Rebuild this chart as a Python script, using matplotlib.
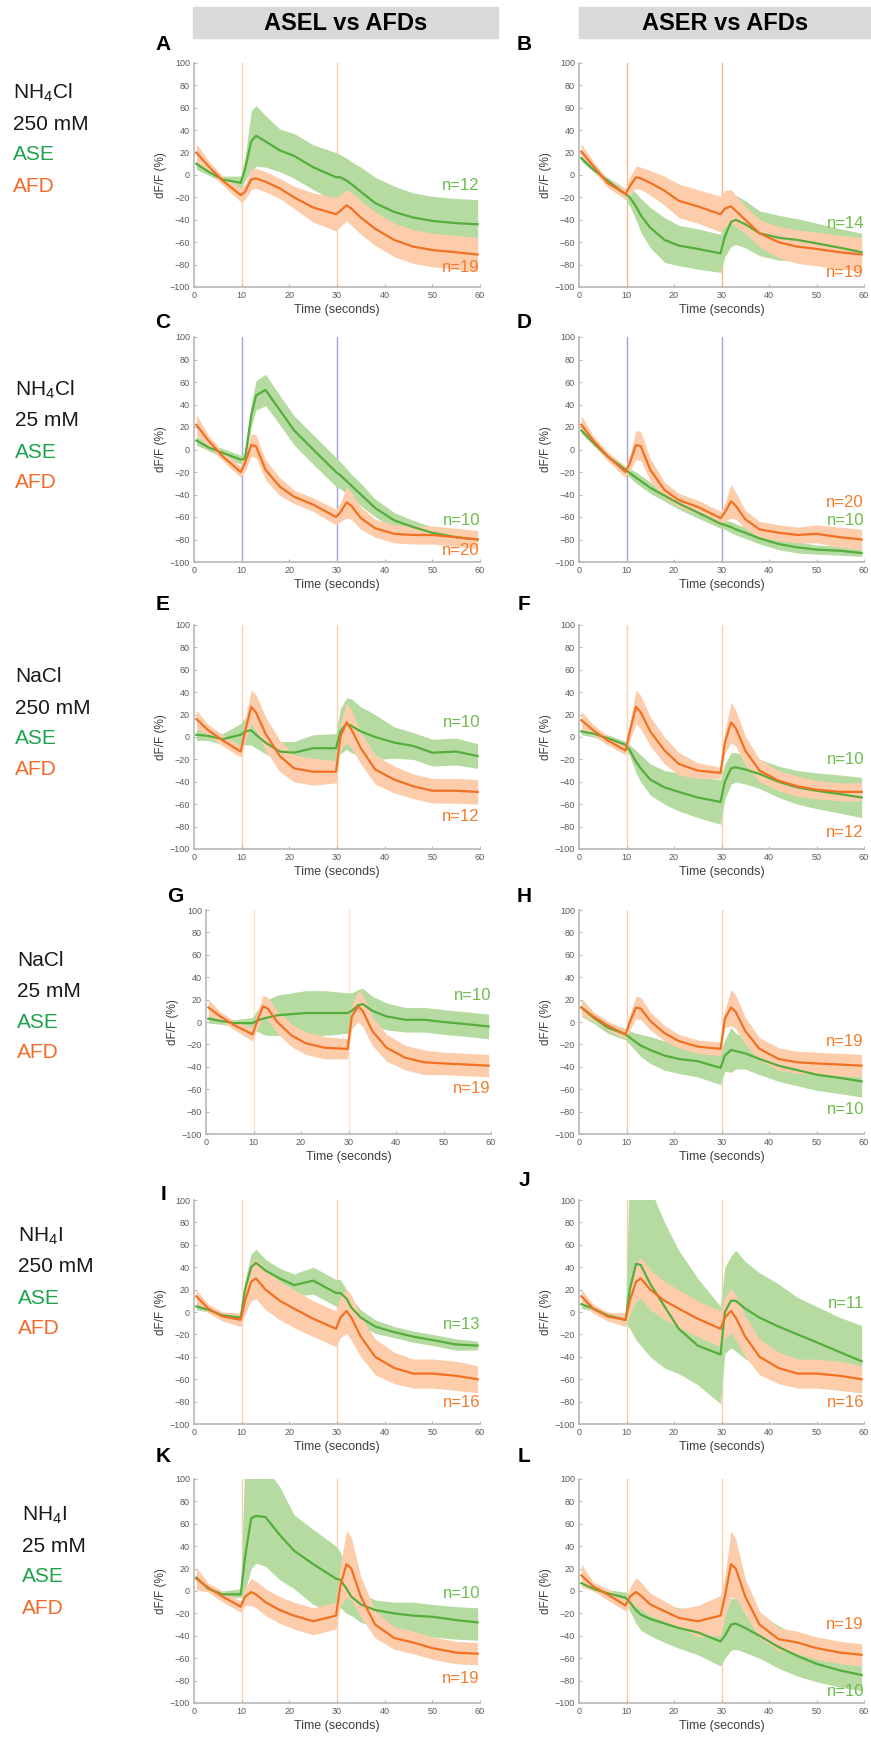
import matplotlib
matplotlib.use("Agg")
import numpy as np
import matplotlib.pyplot as plt
from matplotlib.patches import Rectangle

plt.rcParams['font.family'] = ['Liberation Sans', 'DejaVu Sans']
plt.rcParams['mathtext.fontset'] = 'custom'
plt.rcParams['mathtext.rm'] = 'Liberation Sans'

W, H = 871, 1737

# shared time grid (seconds)
t = [0.5, 3, 6, 9.8, 10.7, 12, 13, 15, 18, 21, 25, 29.8, 30.7, 32, 33, 35, 38, 42, 46, 50, 55, 59.5]

# --- A: NH4Cl 250 mM, ASEL ---
a_ase = [10, 3, -4, -7, 5, 30, 35, 30, 22, 17, 7, -2, -2, -5, -8, -15, -25, -33, -38, -41, -43, -44]
a_ase_err = [5, 3, 3, 6, 10, 27, 27, 23, 19, 20, 20, 22, 20, 20, 20, 22, 23, 23, 22, 22, 22, 22]
a_afd = [20, 8, -5, -18, -15, -4, -3, -6, -12, -20, -29, -35, -32, -27, -30, -38, -48, -58, -64, -67, -69, -71]
a_afd_err = [8, 5, 4, 6, 7, 9, 9, 9, 9, 10, 13, 15, 14, 14, 15, 15, 15, 15, 15, 15, 15, 15]
# --- B: NH4Cl 250 mM, ASER ---
b_ase = [15, 5, -5, -17, -20, -28, -36, -47, -58, -63, -66, -70, -55, -42, -40, -44, -52, -56, -58, -61, -65, -69]
b_ase_err = [3, 2, 3, 5, 8, 12, 15, 18, 20, 18, 18, 17, 18, 22, 22, 21, 20, 20, 19, 18, 17, 17]
b_afd = [21, 8, -7, -17, -10, -2, -3, -7, -14, -23, -28, -35, -30, -28, -32, -40, -52, -60, -64, -66, -69, -71]
b_afd_err = [7, 4, 4, 5, 8, 10, 10, 11, 13, 15, 15, 16, 16, 15, 14, 12, 12, 14, 15, 15, 15, 15]
# --- C: NH4Cl 25 mM, ASEL ---
c_ase = [8, 2, -3, -9, -8, 30, 48, 53, 35, 17, 0, -20, -23, -28, -32, -40, -52, -63, -69, -74, -78, -80]
c_ase_err = [4, 3, 4, 4, 5, 10, 13, 14, 13, 13, 13, 13, 12, 11, 10, 10, 8, 7, 6, 5, 4, 4]
c_afd = [22, 8, -6, -20, -12, 4, 3, -18, -33, -42, -49, -60, -56, -47, -50, -61, -70, -75, -76, -76, -78, -80]
c_afd_err = [9, 5, 4, 5, 7, 10, 10, 9, 8, 6, 6, 7, 8, 14, 12, 10, 8, 8, 8, 8, 8, 8]
# --- D: NH4Cl 25 mM, ASER ---
d_ase = [17, 6, -6, -18, -21, -25, -28, -34, -41, -48, -56, -66, -67, -69, -71, -74, -79, -84, -87, -89, -90, -92]
d_ase_err = [3, 2, 3, 3, 4, 5, 5, 5, 5, 5, 5, 4, 4, 5, 5, 5, 5, 5, 5, 4, 4, 3]
d_afd = [22, 8, -6, -20, -12, 4, 3, -18, -36, -45, -51, -61, -56, -46, -50, -62, -71, -74, -76, -75, -78, -80]
d_afd_err = [8, 4, 4, 5, 7, 13, 13, 10, 7, 6, 6, 6, 8, 15, 12, 8, 7, 7, 7, 8, 9, 9]
# --- E: NaCl 250 mM, ASEL ---
e_ase = [2, 1, -2, 2, 5, 6, 2, -5, -13, -14, -10, -10, 5, 12, 10, 5, 0, -5, -8, -14, -13, -17]
e_ase_err = [5, 4, 5, 10, 12, 13, 12, 10, 9, 10, 12, 13, 20, 23, 24, 22, 20, 14, 12, 12, 12, 11]
e_afd = [16, 6, -3, -13, 5, 27, 22, 3, -17, -28, -31, -31, 0, 13, 7, -10, -29, -38, -44, -48, -48, -49]
e_afd_err = [8, 5, 5, 5, 10, 15, 16, 15, 14, 12, 12, 10, 12, 18, 17, 14, 13, 12, 11, 11, 11, 11]
# --- F: NaCl 250 mM, ASER ---
f_ase = [5, 3, -1, -7, -12, -22, -28, -38, -45, -49, -54, -58, -40, -28, -27, -29, -33, -40, -45, -48, -51, -54]
f_ase_err = [3, 3, 3, 3, 5, 10, 12, 14, 15, 17, 18, 20, 16, 14, 13, 13, 13, 14, 15, 16, 17, 18]
f_afd = [15, 6, -3, -12, 5, 27, 22, 5, -12, -24, -30, -32, -5, 13, 8, -12, -30, -39, -44, -47, -49, -49]
f_afd_err = [8, 5, 4, 4, 8, 15, 15, 13, 12, 10, 7, 5, 10, 18, 16, 13, 10, 9, 9, 8, 8, 8]
# --- G: NaCl 25 mM, ASEL ---
g_ase = [3, 1, -1, -1, 1, 3, 4, 6, 7, 8, 8, 8, 10, 15, 16, 10, 5, 2, 2, 0, -2, -4]
g_ase_err = [4, 3, 3, 5, 9, 14, 16, 18, 19, 20, 20, 18, 16, 14, 14, 13, 12, 11, 11, 11, 11, 11]
g_afd = [13, 5, -3, -11, 0, 14, 12, 0, -12, -19, -23, -24, 5, 14, 10, -8, -23, -32, -36, -37, -38, -39]
g_afd_err = [7, 4, 4, 6, 7, 10, 10, 10, 10, 10, 10, 9, 10, 14, 14, 13, 12, 11, 11, 10, 10, 10]
# --- H: NaCl 25 mM, ASER ---
h_ase = [13, 4, -5, -11, -14, -18, -21, -25, -30, -33, -35, -41, -30, -25, -26, -28, -33, -39, -43, -47, -50, -53]
h_ase_err = [8, 5, 5, 5, 6, 8, 10, 12, 13, 13, 14, 15, 14, 20, 16, 14, 14, 14, 14, 14, 14, 14]
h_afd = [13, 5, -3, -11, 0, 13, 12, 1, -10, -17, -22, -24, 3, 13, 9, -8, -24, -33, -36, -37, -38, -39]
h_afd_err = [7, 4, 4, 4, 7, 10, 10, 8, 7, 6, 6, 6, 8, 16, 15, 12, 10, 10, 10, 10, 10, 10]
# --- I: NH4I 250 mM, ASEL ---
i_ase = [5, 2, -3, -5, 20, 40, 44, 37, 30, 24, 28, 17, 17, 12, 4, -5, -13, -18, -22, -25, -29, -30]
i_ase_err = [3, 2, 2, 3, 8, 12, 12, 10, 9, 10, 12, 12, 12, 8, 8, 7, 6, 5, 5, 5, 5, 4]
i_afd = [14, 3, -4, -7, 10, 27, 30, 20, 10, 3, -6, -15, -5, 1, -5, -22, -40, -50, -55, -55, -57, -60]
i_afd_err = [6, 4, 4, 6, 12, 17, 18, 18, 17, 17, 16, 16, 18, 20, 20, 18, 16, 14, 13, 13, 13, 12]
# --- J: NH4I 250 mM, ASER (asymmetric ASE band) ---
j_ase = [7, 3, -3, -7, 20, 43, 42, 25, 5, -15, -30, -38, 0, 10, 10, 3, -5, -13, -20, -27, -36, -44]
j_ase_lo = [3, 1, -6, -10, -15, -25, -30, -40, -50, -55, -65, -82, -37, -32, -35, -42, -48, -55, -62, -66, -70, -72]
j_ase_hi = [10, 5, 0, -3, 140, 140, 140, 110, 80, 55, 30, 5, 40, 50, 55, 45, 35, 25, 13, 5, -5, -12]
j_afd = [14, 3, -4, -7, 10, 27, 30, 20, 10, 3, -6, -15, -5, 1, -5, -22, -40, -50, -55, -55, -57, -60]
j_afd_err = [6, 4, 4, 6, 12, 17, 18, 18, 17, 17, 16, 16, 18, 20, 20, 18, 16, 14, 13, 13, 13, 12]
# --- K: NH4I 25 mM, ASEL (asymmetric ASE band) ---
k_ase = [12, 2, -3, -3, 30, 65, 67, 66, 50, 36, 24, 11, 10, 2, -5, -12, -17, -20, -22, -23, -26, -28]
k_ase_lo = [8, 0, -5, -6, 0, 20, 25, 22, 10, 2, -12, -20, -15, -20, -22, -28, -32, -37, -40, -41, -43, -44]
k_ase_hi = [15, 5, 0, 2, 120, 130, 130, 110, 93, 68, 55, 40, 35, 18, 5, -2, -8, -10, -10, -12, -14, -15]
k_afd = [11, 3, -5, -14, -5, -1, -3, -10, -17, -22, -27, -22, 5, 24, 20, -5, -30, -42, -46, -51, -55, -56]
k_afd_err = [10, 4, 5, 5, 8, 12, 12, 12, 12, 12, 12, 12, 18, 30, 28, 18, 12, 10, 10, 10, 10, 10]
# --- L: NH4I 25 mM, ASER ---
l_ase = [7, 2, -2, -6, -10, -17, -21, -25, -29, -33, -37, -45, -40, -30, -29, -33, -40, -50, -58, -65, -71, -75]
l_ase_err = [3, 2, 3, 5, 8, 12, 14, 15, 17, 18, 20, 22, 20, 23, 23, 22, 20, 19, 18, 16, 15, 14]
l_afd = [14, 4, -3, -13, -5, -1, -4, -12, -18, -24, -27, -22, -5, 24, 20, -5, -30, -43, -46, -51, -55, -57]
l_afd_err = [10, 4, 5, 5, 8, 13, 12, 10, 9, 8, 14, 18, 18, 30, 26, 16, 12, 10, 10, 10, 10, 10]

letters = ['A', 'B', 'C', 'D', 'E', 'F', 'G', 'H', 'I', 'J', 'K', 'L']
ase_n = ['n=12', 'n=14', 'n=10', 'n=10', 'n=10', 'n=10', 'n=10', 'n=10', 'n=13', 'n=11', 'n=10', 'n=10']
afd_n = ['n=19', 'n=19', 'n=20', 'n=20', 'n=12', 'n=12', 'n=19', 'n=19', 'n=16', 'n=16', 'n=19', 'n=19']
ase_n_y = [-9, -43, -63, -63, 13, -20, 24, -78, -11, 8, -2, -90]
afd_n_y = [-83, -87, -90, -47, -71, -85, -59, -17, -81, -81, -78, -30]
row_labels = [
    ['NH$_\\mathregular{4}$Cl', '250 mM'],
    ['NH$_\\mathregular{4}$Cl', '25 mM'],
    ['NaCl', '250 mM'],
    ['NaCl', '25 mM'],
    ['NH$_\\mathregular{4}$I', '250 mM'],
    ['NH$_\\mathregular{4}$I', '25 mM'],
]
col_titles = ['ASEL vs AFDs', 'ASER vs AFDs']

panels = [
    (a_ase, a_ase_err, a_afd, a_afd_err), (b_ase, b_ase_err, b_afd, b_afd_err),
    (c_ase, c_ase_err, c_afd, c_afd_err), (d_ase, d_ase_err, d_afd, d_afd_err),
    (e_ase, e_ase_err, e_afd, e_afd_err), (f_ase, f_ase_err, f_afd, f_afd_err),
    (g_ase, g_ase_err, g_afd, g_afd_err), (h_ase, h_ase_err, h_afd, h_afd_err),
    (i_ase, i_ase_err, i_afd, i_afd_err), (j_ase, None, j_afd, j_afd_err),
    (k_ase, None, k_afd, k_afd_err), (l_ase, l_ase_err, l_afd, l_afd_err),
]
ase_bands = {9: (j_ase_lo, j_ase_hi), 10: (k_ase_lo, k_ase_hi)}

# layout in pixels
row_y = [(63, 287), (337, 562), (625, 849), (910, 1134), (1200, 1424), (1479, 1703)]
col_x = [(194, 480), (579, 864)]
letter_y = [45, 45, 322, 322, 605, 605, 897, 897, 1195, 1180, 1457, 1457]
label_y0 = [93, 390, 677, 960, 1236, 1515]
label_x0 = [13, 15, 15, 17, 18, 22]

green_line, green_fill = '#55ad3c', '#b5dba1'
orange_line, orange_fill = '#f07124', '#fdcdab'
stim = ['#f9ccaa', '#f6b985', '#a3a3dc', '#a3a3dc', '#f9d0b2', '#f9d0b2',
        '#fbe2d0', '#f9ccaa', '#f9d0b2', '#f9ccaa', '#f9d0b2', '#f9ccaa']

fig = plt.figure(figsize=(W / 100, H / 100), dpi=100)

def fx(px):
    return px / W

def fy(py):
    return 1 - py / H

# column header boxes
for (x0, x1), title in zip([(193, 498), (579, 871)], col_titles):
    fig.patches.append(Rectangle((fx(x0), fy(38)), fx(x1 - x0), (38 - 7) / H,
                                 transform=fig.transFigure, color='#d9d9d9', zorder=0))
    fig.text(fx((x0 + x1) / 2), fy(23), title, ha='center', va='center', fontsize=17,
             fontweight='bold', family=['Liberation Sans Narrow', 'Liberation Sans'], stretch='condensed')

for idx in range(12):
    r, c = divmod(idx, 2)
    x0, x1 = col_x[c]
    if idx == 6:
        x0, x1 = 206, 491
    top, bot = row_y[r]
    ax = fig.add_axes([fx(x0), fy(bot), fx(x1 - x0), (bot - top) / H])
    ase, ase_err, afd, afd_err = panels[idx]
    ase = np.array(ase)
    afd = np.array(afd)
    if idx in ase_bands:
        lo, hi = ase_bands[idx]
    else:
        lo, hi = ase - np.array(ase_err), ase + np.array(ase_err)
    for xv in (10, 30):
        ax.axvline(xv, color=stim[idx], lw=1.0, zorder=1)
    ax.fill_between(t, lo, hi, color=green_fill, lw=0, zorder=2)
    ax.fill_between(t, afd - np.array(afd_err), afd + np.array(afd_err), color=orange_fill, lw=0, zorder=3)
    ax.plot(t, ase, color=green_line, lw=1.6, zorder=4)
    ax.plot(t, afd, color=orange_line, lw=1.6, zorder=5)
    ax.text(60, ase_n_y[idx], ase_n[idx], color='#6dbb4c', fontsize=12, ha='right', va='center', zorder=6)
    ax.text(60, afd_n_y[idx], afd_n[idx], color='#f47b2c', fontsize=12, ha='right', va='center', zorder=6)

    ax.set_xlim(0, 60)
    ax.set_ylim(-100, 100)
    ax.set_xticks(range(0, 61, 10))
    ax.set_yticks(range(-100, 101, 20))
    for s in ('top', 'right'):
        ax.spines[s].set_visible(False)
    for s in ('left', 'bottom'):
        ax.spines[s].set_color('#b8b8b8')
        ax.spines[s].set_linewidth(1.2)
    ax.tick_params(direction='in', length=2.5, width=0.8, colors='#b8b8b8',
                   labelcolor='#5a5a5a', labelsize=6.5, pad=3)
    ax.set_xlabel('Time (seconds)', fontsize=9, color='#404040', labelpad=3)
    ax.set_ylabel('dF/F (%)', fontsize=8.5, color='#404040', labelpad=2)

    lx = x0 - 31 if c == 0 else x0 - 55
    fig.text(fx(lx), fy(letter_y[idx]), letters[idx], ha='center', va='center',
             fontsize=15, fontweight='bold')

# row labels on the left
for r in range(6):
    y0 = label_y0[r]
    lines = row_labels[r] + ['ASE', 'AFD']
    colors = ['#1a1a1a', '#1a1a1a', '#1ea34c', '#f26a2a']
    for k, (txt, col) in enumerate(zip(lines, colors)):
        fig.text(fx(label_x0[r]), fy(y0 + k * 31), txt, color=col, fontsize=15,
                 ha='left', va='center')

fig.savefig('out.png', dpi=100)
